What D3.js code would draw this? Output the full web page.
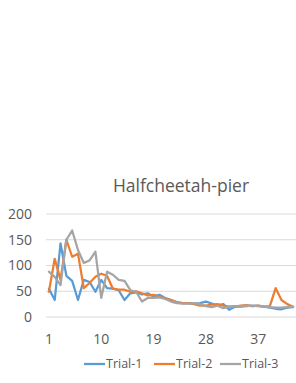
<!DOCTYPE html>
<html>
<head>
<meta charset="utf-8">
<script src="https://cdn.jsdelivr.net/npm/d3@7"></script>
<style>
  body { margin: 0; background: white; }
  svg { display: block; font-family: "Open Sans", "Liberation Sans", sans-serif; }
</style>
</head>
<body>
<svg id="chart"></svg>
<script>
// Halfcheetah-pier: three trials, 43 points each
var episodes = d3.range(1, 44);
var xTickLabels = [1, 10, 19, 28, 37];
var yTicks = [0, 50, 100, 150, 200];
var seriesNames = ["Trial-1", "Trial-2", "Trial-3"];

var trial1 = [55, 33, 143, 80, 70, 33, 72, 68, 49, 72, 56, 55, 52, 33, 46, 48, 44, 46, 40, 43,
    37, 33, 29, 27, 27, 26, 27, 30, 26, 22, 25, 14, 20, 20, 21, 22, 21, 20, 18, 16, 15, 18, 19];
var trial2 = [49, 113, 72, 150, 117, 123, 56, 66, 78, 84, 80, 55, 53, 53, 49, 50, 46, 42, 43, 39,
    36, 33, 28, 27, 27, 25, 22, 22, 24, 25, 22, 20, 20, 22, 23, 21, 22, 20, 21, 56, 33, 25, 20];
var trial3 = [88, 78, 62, 150, 168, 130, 105, 110, 127, 37, 88, 82, 72, 70, 52, 49, 30, 37, 37, 38,
    35, 30, 27, 26, 26, 27, 25, 21, 19, 22, 17, 20, 21, 21, 22, 21, 22, 20, 19, 18, 18, 19, 20];

var dimensions = {
    width: 296,
    height: 383,
    margin: { top: 214, bottom: 66, left: 46, right: 0 }
};

var colors = ["#5B9BD5", "#ED7D31", "#A5A5A5"];
var allSeries = [trial1, trial2, trial3];

var svg = d3.select("#chart")
    .attr("width", dimensions.width)
    .attr("height", dimensions.height);

var xScale = d3.scaleBand()
    .domain(episodes)
    .range([dimensions.margin.left, dimensions.width - dimensions.margin.right]);

var yScale = d3.scaleLinear()
    .domain([0, 200])
    .range([dimensions.height - dimensions.margin.bottom, dimensions.margin.top]);

// gridlines
svg.append("g")
    .selectAll("line")
    .data(yTicks)
    .enter()
    .append("line")
    .attr("x1", dimensions.margin.left)
    .attr("x2", dimensions.width - dimensions.margin.right)
    .attr("y1", d => yScale(d))
    .attr("y2", d => yScale(d))
    .attr("stroke", "#D9D9D9")
    .attr("stroke-width", 1);

// y labels
svg.append("g")
    .selectAll("text")
    .data(yTicks)
    .enter()
    .append("text")
    .attr("x", 32)
    .attr("y", d => yScale(d))
    .attr("dy", "0.35em")
    .attr("text-anchor", "end")
    .attr("font-size", 14)
    .attr("fill", "#595959")
    .text(d => d);

// x labels
svg.append("g")
    .selectAll("text")
    .data(xTickLabels)
    .enter()
    .append("text")
    .attr("x", d => xScale(d) + xScale.bandwidth() / 2)
    .attr("y", 344)
    .attr("text-anchor", "middle")
    .attr("font-size", 14)
    .attr("fill", "#595959")
    .text(d => d);

var line = d3.line()
    .x((d, i) => xScale(episodes[i]) + xScale.bandwidth() / 2)
    .y(d => yScale(d));

svg.append("g")
    .selectAll("path")
    .data(allSeries)
    .enter()
    .append("path")
    .attr("d", d => line(d))
    .attr("fill", "none")
    .attr("stroke", (d, i) => colors[i])
    .attr("stroke-width", 2.25)
    .attr("stroke-linejoin", "round")
    .attr("stroke-linecap", "round");

// title
svg.append("text")
    .attr("x", 181)
    .attr("y", 192)
    .attr("text-anchor", "middle")
    .attr("font-size", 17.5)
    .attr("fill", "#595959")
    .text("Halfcheetah-pier");

// legend
var legendX = [84, 154, 220];
var legend = svg.selectAll(".legend")
    .data(seriesNames)
    .enter()
    .append("g")
    .attr("class", "legend")
    .attr("transform", (d, i) => `translate(${legendX[i]},364)`);

legend.append("line")
    .attr("x1", 0)
    .attr("x2", 21)
    .attr("stroke", (d, i) => colors[i])
    .attr("stroke-width", 2.25);

legend.append("text")
    .attr("x", 22)
    .attr("dy", "0.35em")
    .attr("font-size", 12.5)
    .attr("fill", "#595959")
    .text(d => d);
</script>
</body>
</html>
